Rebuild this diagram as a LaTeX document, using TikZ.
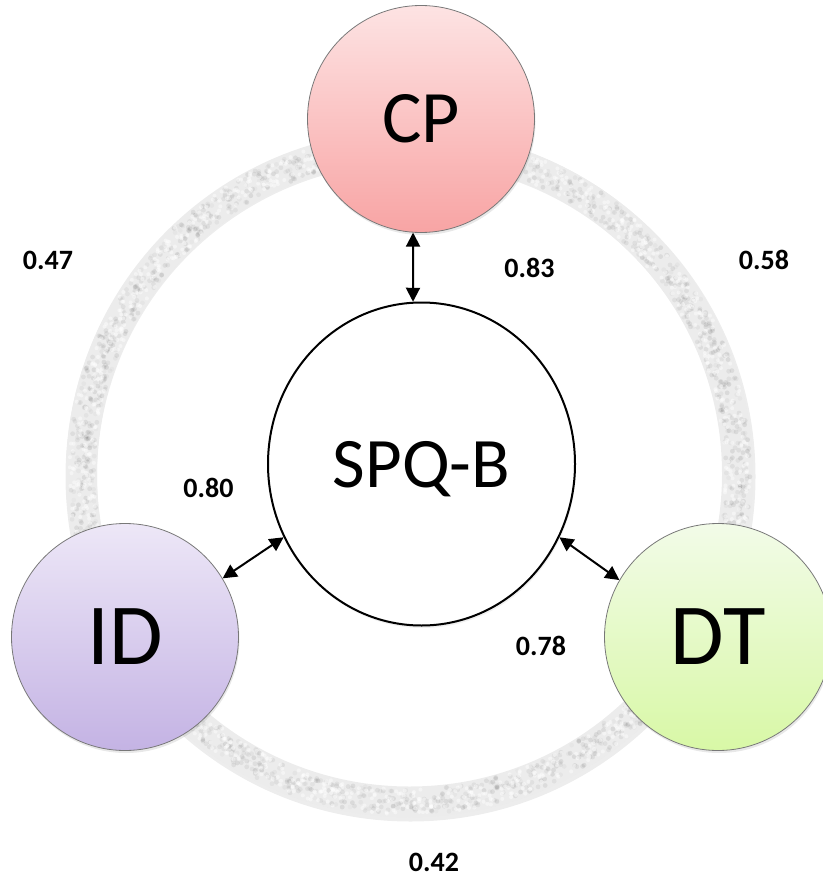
\documentclass[tikz,border=0pt]{standalone}
\usepackage{fontspec}
\setmainfont{Carlito}
\usetikzlibrary{arrows.meta,shapes.geometric,shadows}
\definecolor{cptop}{RGB}{253,227,227}
\definecolor{cpbot}{RGB}{248,164,164}
\definecolor{idtop}{RGB}{237,231,247}
\definecolor{idbot}{RGB}{196,179,228}
\definecolor{dttop}{RGB}{242,251,232}
\definecolor{dtbot}{RGB}{216,248,166}
\definecolor{ringbase}{RGB}{236,236,236}
\definecolor{rimgray}{RGB}{120,120,120}
\begin{document}
\begin{tikzpicture}[x=1pt,y=-1pt,
  bubble/.style={circle, draw=rimgray, line width=0.8pt, minimum size=227pt, inner sep=0pt,
    drop shadow={opacity=0.18, shadow xshift=1pt, shadow yshift=-2.5pt}},
  centre/.style={ellipse, draw=black, line width=2pt, fill=white, minimum width=307pt,
    minimum height=323pt, inner sep=0pt, text depth=0pt,
    drop shadow={opacity=0.12, shadow xshift=1pt, shadow yshift=-2.5pt}},
  val/.style={font=\bfseries\fontsize{28}{30}\selectfont, inner sep=0pt},
  dblarrow/.style={{Triangle[length=14pt,width=14pt]}-{Triangle[length=14pt,width=14pt]}, line width=2pt}
]
\path[use as bounding box] (0,0) rectangle (822,877);
% outer gray ring with a faint shadow and mottled texture
\fill[black, opacity=0.07, even odd rule] (410.5,476.5) circle[radius=345] (410.5,476.5) circle[radius=313.5];
\fill[ringbase, even odd rule] (409.5,474) circle[radius=343.5] (409.5,474) circle[radius=312.5];
\pgfmathsetseed{11}
\foreach \i in {1,...,1800}{
  \pgfmathsetmacro\ang{rnd*360}
  \pgfmathsetmacro\rad{315.5+rnd*25}
  \pgfmathsetmacro\op{0.02+0.06*rnd}
  \fill[black, opacity=\op] (409.5,474) ++(\ang:\rad) circle[radius=2.4];
}
\foreach \i in {1,...,1200}{
  \pgfmathsetmacro\ang{rnd*360}
  \pgfmathsetmacro\rad{315.5+rnd*25}
  \fill[white, opacity=0.45] (409.5,474) ++(\ang:\rad) circle[radius=2];
}
% centre node
\node[centre, font=\fontsize{71}{76}\selectfont] (spq) at (421.5,464) {SPQ-B};
% outer nodes
\node[bubble, top color=cptop, bottom color=cpbot, font=\fontsize{74}{80}\selectfont] (cp) at (421,119) {CP};
\node[bubble, top color=idtop, bottom color=idbot, font=\fontsize{87}{92}\selectfont] (id) at (125,637) {ID};
\node[bubble, top color=dttop, bottom color=dtbot, font=\fontsize{87}{92}\selectfont] (dt) at (718,637) {DT};
% connectors
\draw[dblarrow] (cp.266) -- (spq.93);
\draw[dblarrow] (id.31) -- (spq.208);
\draw[dblarrow] (dt.150) -- (spq.332);
% values
\node[val] (v47) at (48,260) {0.47};
\node[val] (v83) at (529.5,268) {0.83};
\node[val] (v58) at (764,260) {0.58};
\node[val] (v80) at (208.5,487.5) {0.80};
\node[val] (v78) at (541,646) {0.78};
\node[val] (v42) at (434,862) {0.42};
\end{tikzpicture}
\end{document}
